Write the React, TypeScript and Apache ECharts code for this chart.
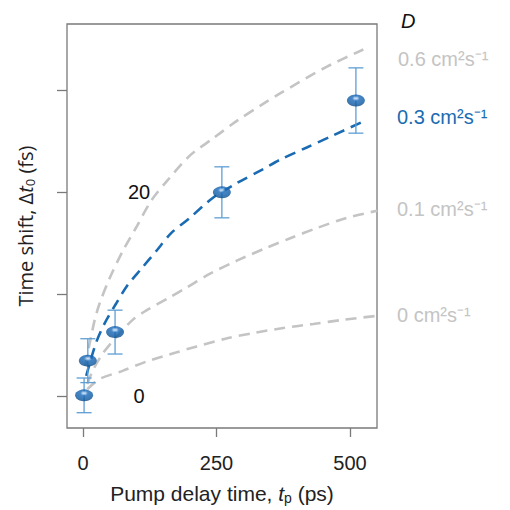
import React, { useEffect, useRef } from "react";
import * as echarts from "echarts";

const xTickValues = [0, 250, 500];
const yTickValues = [0, 10, 20, 30];
const yLabelValues = [0, 20];

const pointsX = [2, 9, 60, 260, 511];
const pointsY = [0.1, 3.5, 6.3, 20.0, 29.0];
const errors = [1.7, 2.15, 2.15, 2.5, 3.2];

const d06X = [4, 21, 31, 50, 75, 100, 128, 157, 200, 244, 288, 338, 369, 456, 525];
const d06Y = [3.0, 7.3, 9.1, 11.6, 14.3, 16.6, 19.2, 21.1, 23.6, 25.3, 27.0, 28.7, 29.7, 32.3, 34.0];

const d03X = [6, 24, 40, 62, 82, 109, 138, 165, 200, 244, 288, 338, 369, 419, 469, 531];
const d03Y = [2.0, 5.2, 7.1, 9.1, 10.8, 12.5, 14.3, 16.0, 17.5, 19.5, 20.9, 22.3, 23.2, 24.4, 25.6, 27.1];

const d01X = [8, 18, 37, 62, 93, 118, 162, 195, 237, 288, 345, 388, 438, 494, 551];
const d01Y = [1.2, 2.5, 4.2, 5.8, 7.5, 8.4, 9.7, 10.7, 12.0, 13.3, 14.6, 15.5, 16.5, 17.5, 18.2];

const d00X = [8, 31, 74, 118, 174, 213, 270, 318, 375, 431, 487, 551];
const d00Y = [0.7, 1.7, 2.5, 3.4, 4.3, 4.9, 5.7, 6.2, 6.7, 7.1, 7.5, 7.9];

const curveLabels = ["0.6 cm²s⁻¹", "0.3 cm²s⁻¹", "0.1 cm²s⁻¹", "0 cm²s⁻¹"];

const GREY = "#c4c4c4";
const BLUE = "#1a6bb2";
const ERR = "#5f9ed3";
const FONT = "Liberation Sans, Arial, sans-serif";
const FONT2 = "Open Sans, sans-serif";

const zip = (xs: number[], ys: number[]) => xs.map((x, i) => [x, ys[i]]);

export default function App() {
  const ref = useRef<HTMLDivElement>(null);
  useEffect(() => {
    if (!ref.current) return;
    const chart = echarts.init(ref.current, undefined, { renderer: "svg" });
    const curve = (name: string, xs: number[], ys: number[], color: string) => ({
      type: "line",
      name,
      data: zip(xs, ys),
      smooth: 0.3,
      showSymbol: false,
      symbol: "none",
      lineStyle: { color, width: 2.6, type: [11, 7] },
      z: 2,
      silent: true,
    });
    chart.setOption({
      animation: false,
      textStyle: { fontFamily: FONT },
      grid: {
        left: 67,
        right: 133,
        top: 24,
        bottom: 82,
        show: true,
        borderColor: "#7a7a7a",
        borderWidth: 1.3,
        backgroundColor: "transparent",
      },
      xAxis: {
        type: "value",
        min: -30,
        max: 550.5,
        axisLine: { show: false, onZero: false },
        splitLine: { show: false },
        axisTick: {
          show: true,
          length: 9,
          customValues: xTickValues,
          lineStyle: { color: "#7a7a7a", width: 1.3 },
        },
        axisLabel: {
          customValues: xTickValues,
          margin: 25,
          fontSize: 20,
          color: "#222",
          fontFamily: FONT,
        },
        name: "Pump delay time, {i|t}{s|p} (ps)",
        nameLocation: "middle",
        nameGap: 53,
        nameTextStyle: {
          fontSize: 21,
          color: "#222",
          fontFamily: FONT,
          rich: {
            i: { fontSize: 21, fontStyle: "italic", color: "#222", fontFamily: FONT },
            s: { fontSize: 14, color: "#222", fontFamily: FONT, padding: [10, 0, 0, 0] },
          },
        },
      },
      yAxis: {
        type: "value",
        min: -3.1,
        max: 36.5,
        axisLine: { show: false, onZero: false },
        splitLine: { show: false },
        axisTick: {
          show: true,
          length: 10,
          customValues: yTickValues,
          lineStyle: { color: "#7a7a7a", width: 1.3 },
        },
        axisLabel: {
          customValues: yLabelValues,
          inside: true,
          margin: 72,
          align: "center",
          fontSize: 20,
          color: "#111",
          fontFamily: FONT,
        },
        name: "Time shift, Δ{i|t}{s|0} (fs)",
        nameLocation: "middle",
        nameGap: 31,
        nameTextStyle: {
          fontSize: 20,
          color: "#222",
          fontFamily: FONT2,
          rich: {
            i: { fontSize: 20, fontStyle: "italic", color: "#222", fontFamily: FONT2 },
            s: { fontSize: 13, color: "#222", fontFamily: FONT2, padding: [9, 0, 0, 0] },
          },
        },
      },
      series: [
        curve("0.6", d06X, d06Y, GREY),
        curve("0.1", d01X, d01Y, GREY),
        curve("0", d00X, d00Y, GREY),
        curve("0.3", d03X, d03Y, BLUE),
        {
          type: "custom",
          name: "err",
          data: pointsX.map((x, i) => [x, pointsY[i], errors[i]]),
          encode: { x: 0, y: 1 },
          z: 3,
          silent: true,
          renderItem: (params: any, api: any) => {
            const x = api.value(0);
            const y = api.value(1);
            const e = api.value(2);
            const top = api.coord([x, y + e]);
            const bot = api.coord([x, y - e]);
            const hw = 7.5;
            const st = { stroke: ERR, lineWidth: 1.3, fill: "none" };
            return {
              type: "group",
              children: [
                { type: "line", shape: { x1: top[0], y1: top[1], x2: bot[0], y2: bot[1] }, style: st },
                { type: "line", shape: { x1: top[0] - hw, y1: top[1], x2: top[0] + hw, y2: top[1] }, style: st },
                { type: "line", shape: { x1: bot[0] - hw, y1: bot[1], x2: bot[0] + hw, y2: bot[1] }, style: st },
              ],
            };
          },
        },
        {
          type: "scatter",
          name: "data",
          data: zip(pointsX, pointsY),
          symbol: "circle",
          symbolSize: [18, 12],
          z: 4,
          itemStyle: {
            color: {
              type: "radial",
              x: 0.5,
              y: 0.32,
              r: 0.7,
              colorStops: [
                { offset: 0, color: "#f2f8ff" },
                { offset: 0.12, color: "#9cc4ea" },
                { offset: 0.3, color: "#1868b8" },
                { offset: 0.75, color: "#0c58a0" },
                { offset: 1, color: "#08457f" },
              ],
            },
          },
        },
      ],
      graphic: [
        {
          type: "text",
          left: 401,
          top: 11,
          style: { text: "D", fontSize: 20, fontStyle: "italic", fill: "#111", fontFamily: FONT },
        },
        {
          type: "text",
          left: 398,
          top: 49,
          style: { text: curveLabels[0], fontSize: 20, fill: GREY, fontFamily: FONT },
        },
        {
          type: "text",
          left: 397,
          top: 107,
          style: { text: curveLabels[1], fontSize: 20, fill: BLUE, fontFamily: FONT },
        },
        {
          type: "text",
          left: 397,
          top: 199,
          style: { text: curveLabels[2], fontSize: 20, fill: GREY, fontFamily: FONT },
        },
        {
          type: "text",
          left: 397,
          top: 305,
          style: { text: curveLabels[3], fontSize: 20, fill: GREY, fontFamily: FONT },
        },
      ],
    });
    return () => chart.dispose();
  }, []);
  return (
    <div
      ref={ref}
      style={{ position: "fixed", left: 0, top: 0, width: 510, height: 510, background: "#fff" }}
    />
  );
}
